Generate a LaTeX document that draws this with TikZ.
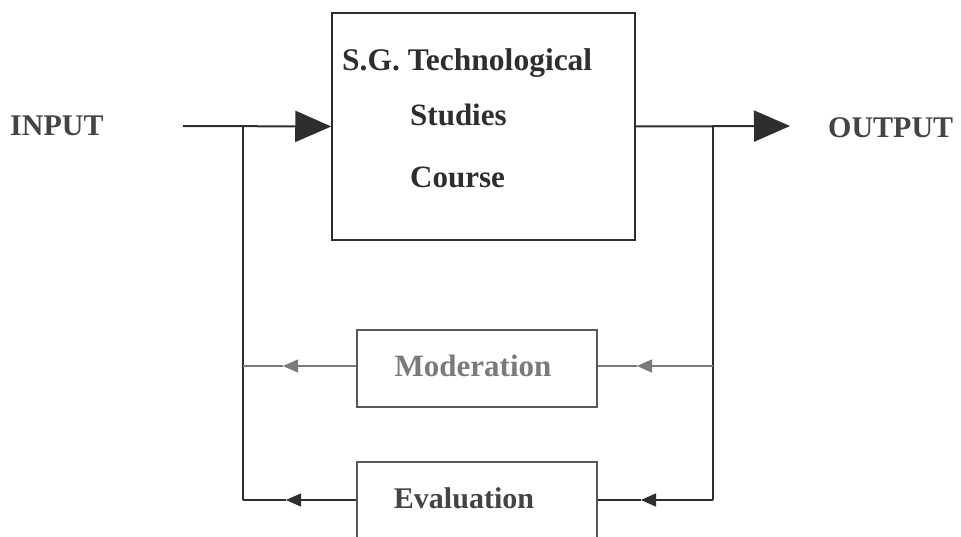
\documentclass[tikz,border=0pt]{standalone}
\usepackage{fontspec}
\setmainfont{Liberation Serif}
\usetikzlibrary{arrows.meta}
\definecolor{ink}{HTML}{2E2E2E}
\definecolor{lbl}{HTML}{444444}
\definecolor{pale}{HTML}{7A7A7A}
\tikzset{
  txt/.style={inner sep=0pt, font=\fontsize{30}{30}\selectfont\bfseries, text=ink},
  boxframe/.style={draw=ink, line width=1.5pt, inner sep=0pt},
  mainline/.style={draw=ink, line width=2pt},
  bigarrow/.style={-{Triangle[length=36pt,width=31pt]}, fill=lbl, draw=ink},
  fbline/.style={draw=ink, line width=1.3pt},
  fbpale/.style={draw=pale, line width=1.2pt},
  smallarrow/.style={-{Triangle[length=15pt,width=13pt]}},
}
\begin{document}
\begin{tikzpicture}[x=1pt,y=-1pt]
\useasboundingbox (0,0) rectangle (961,537);
\clip (0,0) rectangle (961,537);
\fill[white] (0,0) rectangle (961,537);
% main box
\node[boxframe, minimum width=303pt, minimum height=227pt] (course) at (483.5,126.5) {};
\node[txt, anchor=west, font=\fontsize{31.5}{31.5}\selectfont\bfseries] (t1) at (342,63) {S.G. Technological};
\node[txt, anchor=west, font=\fontsize{31}{31}\selectfont\bfseries] (t2) at (410,115) {Studies};
\node[txt, anchor=west, font=\fontsize{31}{31}\selectfont\bfseries] (t3) at (410,177) {Course};
% labels
\node[txt, text=lbl, anchor=west] (inp) at (10,126) {INPUT};
\node[txt, text=lbl, anchor=west] (outp) at (828,128) {OUTPUT};
% feedback boxes
\node[boxframe, draw=ink!80, line width=1.2pt, minimum width=240pt, minimum height=77pt] (mod) at (477,368.5) {};
\node[txt, text=pale, font=\fontsize{31}{31}\selectfont\bfseries] (modt) at (473,366) {Moderation};
\node[boxframe, draw=ink!80, line width=1.2pt, minimum width=240pt, minimum height=150pt] (evl) at (477,537) {};
\node[txt, text=lbl] (evlt) at (464,498) {Evaluation};
% coordinates
\coordinate (inS) at (183,126);
\coordinate (jl) at (243,126);
\coordinate (jr) at (713,126);
\coordinate (outE) at (790,126);
\coordinate (lm) at (243,366);
\coordinate (rm) at (713,366);
\coordinate (le) at (243,500);
\coordinate (re) at (713,500);
\coordinate (am1) at (283,366);
\coordinate (am2) at (637,366);
\coordinate (ae1) at (286,500);
\coordinate (ae2) at (641,500);
% main flow
\draw[mainline, bigarrow] (inS) -- (course.west);
\draw[mainline, bigarrow] (course.east) -- (outE);
% verticals
\draw[fbline] (jl) -- (le);
\draw[fbline] (jr) -- (re);
% moderation loop
\draw[fbpale, smallarrow, fill=pale] (mod.west |- lm) -- (am1);
\draw[fbpale] (am1) -- (lm);
\draw[fbpale, smallarrow, fill=pale] (rm) -- (am2);
\draw[fbpale] (am2) -- (mod.east |- rm);
% evaluation loop
\draw[fbline, smallarrow, fill=ink] (evl.west |- le) -- (ae1);
\draw[fbline] (ae1) -- (le);
\draw[fbline, smallarrow, fill=ink] (re) -- (ae2);
\draw[fbline] (ae2) -- (evl.east |- re);
\end{tikzpicture}
\end{document}
